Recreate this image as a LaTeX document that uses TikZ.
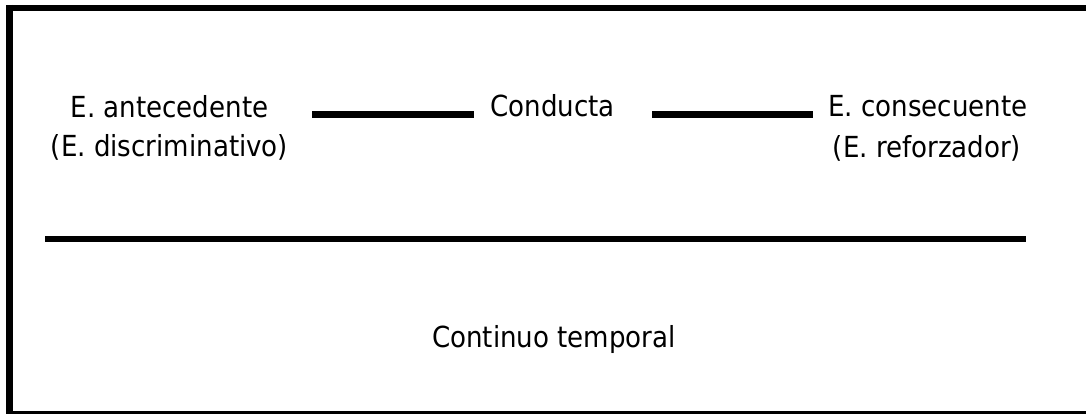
\documentclass[tikz,border=0pt]{standalone}
\usepackage{fontspec}
\setmainfont{DejaVu Sans Condensed}
\begin{document}
\begin{tikzpicture}[x=1pt,y=-1pt,
  lbl/.style={anchor=base,inner sep=0pt,font=\fontsize{29}{35}\selectfont},
  bar/.style={line width=7pt,line cap=butt},
  frameline/.style={line width=#1,line cap=butt}]
\useasboundingbox (0,0) rectangle (1086,414);
% frame
\draw[frameline=7pt] (9.5,5) -- (9.5,414);
\draw[frameline=6pt] (6,8) -- (1086,8);
\draw[frameline=3pt] (6,412.5) -- (1086,412.5);
% texts
\node[lbl] (ant1) at (169.5,118) {E. antecedente};
\node[lbl] (ant2) at (169.5,157) {(E. discriminativo)};
\node[lbl] (cond) at (552.5,117) {Conducta};
\node[lbl] (cons1) at (928,117) {E. consecuente};
\node[lbl] (cons2) at (927,158) {(E. reforzador)};
\node[lbl] (time) at (554,347) {Continuo temporal};
% connectors
\coordinate (d1a) at (312,114.5);
\coordinate (d1b) at (474,114.5);
\coordinate (d2a) at (652,114.5);
\coordinate (d2b) at (813,114.5);
\draw[bar] (d1a) -- (d1b);
\draw[bar] (d2a) -- (d2b);
\coordinate (ta) at (45,239);
\coordinate (tb) at (1026,239);
\draw[bar,line width=6pt] (ta) -- (tb);
\end{tikzpicture}
\end{document}
